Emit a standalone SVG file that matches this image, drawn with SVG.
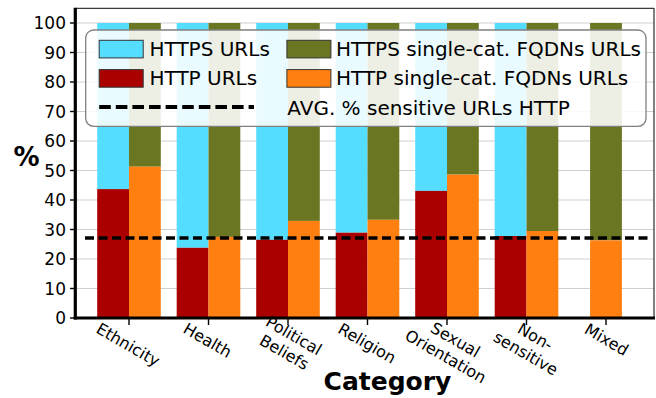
<svg xmlns="http://www.w3.org/2000/svg" width="656" height="398" viewBox="0 0 656 398">
<style>
text{font-family:"DejaVu Sans","Liberation Sans",sans-serif;fill:#000}
.yt{font-size:17px;text-anchor:end}
.xt{font-size:16px;text-anchor:middle}
.lg{font-size:20px}
.ax{font-size:25px;font-weight:bold}
.grid line{stroke:#cfcfcf;stroke-width:1.2}
.https{fill:#55ddff}
.http{fill:#aa0000}
.sc{fill:#6b7623}
.schttp{fill:#ff8010}
.tick{stroke:#000;stroke-width:1.4}
</style>
<rect width="656" height="398" fill="#fff"/>
<g class="grid">
<line x1="77" x2="654" y1="318" y2="318"/>
<line x1="77" x2="654" y1="288.5" y2="288.5"/>
<line x1="77" x2="654" y1="259" y2="259"/>
<line x1="77" x2="654" y1="229.5" y2="229.5"/>
<line x1="77" x2="654" y1="200" y2="200"/>
<line x1="77" x2="654" y1="170.5" y2="170.5"/>
<line x1="77" x2="654" y1="141" y2="141"/>
<line x1="77" x2="654" y1="111.5" y2="111.5"/>
<line x1="77" x2="654" y1="82" y2="82"/>
<line x1="77" x2="654" y1="52.5" y2="52.5"/>
<line x1="77" x2="654" y1="23" y2="23"/>
</g>
<g id="bars">
<g id="ethnicity">
<rect class="https" x="97.2" y="23" width="31.8" height="166.1"/>
<rect class="http" x="97.2" y="189.1" width="31.8" height="128.9"/>
<rect class="sc" x="129" y="23" width="31.8" height="143.7"/>
<rect class="schttp" x="129" y="166.7" width="31.8" height="151.3"/>
</g>
<g id="health">
<rect class="https" x="176.7" y="23" width="31.8" height="224.8"/>
<rect class="http" x="176.7" y="247.8" width="31.8" height="70.2"/>
<rect class="sc" x="208.5" y="23" width="31.8" height="213.9"/>
<rect class="schttp" x="208.5" y="236.9" width="31.8" height="81.1"/>
</g>
<g id="political">
<rect class="https" x="256.2" y="23" width="31.8" height="216.8"/>
<rect class="http" x="256.2" y="239.8" width="31.8" height="78.2"/>
<rect class="sc" x="288" y="23" width="31.8" height="197.9"/>
<rect class="schttp" x="288" y="220.9" width="31.8" height="97.1"/>
</g>
<g id="religion">
<rect class="https" x="335.7" y="23" width="31.8" height="209.7"/>
<rect class="http" x="335.7" y="232.7" width="31.8" height="85.3"/>
<rect class="sc" x="367.5" y="23" width="31.8" height="196.8"/>
<rect class="schttp" x="367.5" y="219.8" width="31.8" height="98.2"/>
</g>
<g id="sexual">
<rect class="https" x="415.2" y="23" width="31.8" height="167.9"/>
<rect class="http" x="415.2" y="190.9" width="31.8" height="127.1"/>
<rect class="sc" x="447" y="23" width="31.8" height="151.6"/>
<rect class="schttp" x="447" y="174.6" width="31.8" height="143.4"/>
</g>
<g id="nonsensitive">
<rect class="https" x="494.7" y="23" width="31.8" height="213"/>
<rect class="http" x="494.7" y="236" width="31.8" height="82"/>
<rect class="sc" x="526.5" y="23" width="31.8" height="208"/>
<rect class="schttp" x="526.5" y="231" width="31.8" height="87"/>
</g>
<g id="mixed">
<rect class="sc" x="590.1" y="23" width="31.8" height="217.4"/>
<rect class="schttp" x="590.1" y="240.4" width="31.8" height="77.6"/>
</g>
</g>
<g id="avg-line">
<line x1="85" x2="648" y1="238" y2="238" stroke="#000" stroke-width="3.6" stroke-dasharray="9 4.5"/>
</g>
<g id="axes">
<line x1="76" x2="654" y1="8.3" y2="8.3" stroke="#3a3a3a" stroke-width="1.3"/>
<line x1="654" x2="654" y1="8" y2="318" stroke="#3a3a3a" stroke-width="1.3"/>
<line x1="75.3" x2="75.3" y1="7.7" y2="319.5" stroke="#000" stroke-width="3.2"/>
<line x1="73.7" x2="655" y1="318" y2="318" stroke="#000" stroke-width="3"/>
<g class="tick">
<line x1="70" x2="75" y1="318" y2="318"/><line x1="70" x2="75" y1="288.5" y2="288.5"/>
<line x1="70" x2="75" y1="259" y2="259"/><line x1="70" x2="75" y1="229.5" y2="229.5"/>
<line x1="70" x2="75" y1="200" y2="200"/><line x1="70" x2="75" y1="170.5" y2="170.5"/>
<line x1="70" x2="75" y1="141" y2="141"/><line x1="70" x2="75" y1="111.5" y2="111.5"/>
<line x1="70" x2="75" y1="82" y2="82"/><line x1="70" x2="75" y1="52.5" y2="52.5"/>
<line x1="70" x2="75" y1="23" y2="23"/>
<line x1="129" x2="129" y1="318" y2="325"/><line x1="208.5" x2="208.5" y1="318" y2="325"/>
<line x1="288" x2="288" y1="318" y2="325"/><line x1="367.5" x2="367.5" y1="318" y2="325"/>
<line x1="447" x2="447" y1="318" y2="325"/><line x1="526.5" x2="526.5" y1="318" y2="325"/>
<line x1="606" x2="606" y1="318" y2="325"/>
</g>
<text class="yt" x="66" y="324">0</text>
<text class="yt" x="66" y="294.5">10</text>
<text class="yt" x="66" y="265">20</text>
<text class="yt" x="66" y="235.5">30</text>
<text class="yt" x="66" y="206">40</text>
<text class="yt" x="66" y="176.5">50</text>
<text class="yt" x="66" y="147">60</text>
<text class="yt" x="66" y="117.5">70</text>
<text class="yt" x="66" y="88">80</text>
<text class="yt" x="66" y="58.5">90</text>
<text class="yt" x="66" y="29">100</text>
<g class="xt">
<text class="xt" transform="translate(127.5 345.6) rotate(30)" y="4.5">Ethnicity</text>
<text class="xt" transform="translate(207 341.2) rotate(30)" y="4.5">Health</text>
<text class="xt" transform="translate(288.5 344.8) rotate(30)"><tspan x="0" y="-5.1">Political</tspan><tspan x="0" y="14.1">Beliefs</tspan></text>
<text class="xt" transform="translate(366.5 344.2) rotate(30)" y="4.5">Religion</text>
<text class="xt" transform="translate(450 349) rotate(30)"><tspan x="0" y="-5.1">Sexual</tspan><tspan x="0" y="14.1">Orientation</tspan></text>
<text class="xt" transform="translate(530 345.9) rotate(30)"><tspan x="0" y="-5.1">Non-</tspan><tspan x="0" y="14.1">sensitive</tspan></text>
<text class="xt" transform="translate(606 340.5) rotate(30)" y="4.5">Mixed</text>
</g>
<text class="ax" x="387.5" y="390" text-anchor="middle">Category</text>
<text class="ax" x="26.5" y="166" text-anchor="middle" style="font-size:26px">%</text>
</g>
<g id="legend">
<rect x="85.7" y="30" width="560.3" height="96.3" rx="8" fill="#fff" fill-opacity="0.88" stroke="#808080" stroke-width="1.3"/>
<rect class="https" x="99.2" y="40.3" width="44" height="17.6" stroke="#333" stroke-width="1"/>
<text class="lg" x="149.5" y="56.2">HTTPS URLs</text>
<rect class="http" x="99.2" y="69.6" width="44" height="17.6" stroke="#333" stroke-width="1"/>
<text class="lg" x="149.5" y="85.4">HTTP URLs</text>
<line x1="99.2" x2="254" y1="107" y2="107" stroke="#000" stroke-width="4" stroke-dasharray="11.6 5"/>
<rect class="sc" x="286.9" y="40.3" width="44" height="17.6" stroke="#333" stroke-width="1"/>
<text class="lg" x="336" y="56.2">HTTPS single-cat. FQDNs URLs</text>
<rect class="schttp" x="286.9" y="69.6" width="44" height="17.6" stroke="#333" stroke-width="1"/>
<text class="lg" x="336" y="85.4">HTTP single-cat. FQDNs URLs</text>
<text class="lg" x="287.3" y="114.6">AVG. % sensitive URLs HTTP</text>
</g>
</svg>
